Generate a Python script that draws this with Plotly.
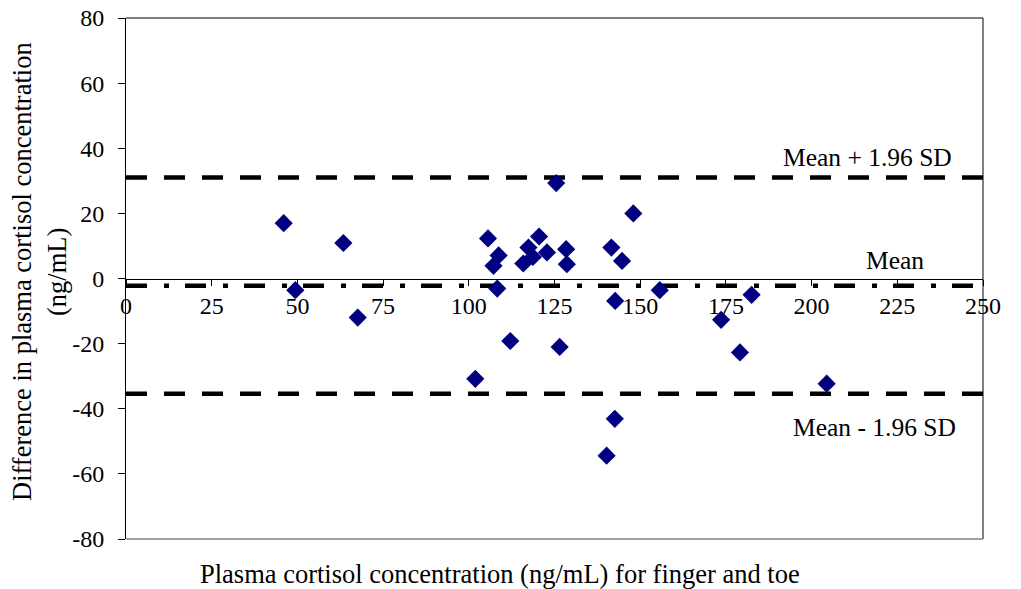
import plotly.graph_objects as go

# Data
mean_conc = [46.0, 49.4, 63.4, 67.6, 101.9, 105.6, 107.2, 108.7, 108.3, 112.1,
             115.9, 117.4, 118.7, 120.5, 122.8, 125.5, 126.5, 128.4, 128.6, 140.2,
             141.6, 142.6, 142.7, 144.7, 148.0, 155.7, 173.6, 179.1, 182.5, 204.4]
diff_conc = [17.0, -3.6, 10.9, -12.0, -30.8, 12.3, 3.9, 7.1, -3.1, -19.2,
             4.6, 9.5, 6.6, 12.9, 8.0, 29.3, -21.0, 9.0, 4.4, -54.4,
             9.5, -43.1, -6.9, 5.4, 20.0, -3.6, -12.7, -22.7, -5.0, -32.3]
mean_diff = -2.2
upper_loa = 31.0
lower_loa = -35.4
x_ticks = [0, 25, 50, 75, 100, 125, 150, 175, 200, 225, 250]
y_ticks = [80, 60, 40, 20, 0, -20, -40, -60, -80]

FONT = "Liberation Serif, Times New Roman, serif"

fig = go.Figure()
line_x = [0, 251]
fig.add_trace(go.Scatter(x=line_x, y=[upper_loa, upper_loa], mode="lines",
                         line=dict(color="black", width=4.5, dash="21px,17px"),
                         cliponaxis=False, hoverinfo="skip"))
fig.add_trace(go.Scatter(x=line_x, y=[lower_loa, lower_loa], mode="lines",
                         line=dict(color="black", width=4.5, dash="21px,17px"),
                         cliponaxis=False, hoverinfo="skip"))
fig.add_trace(go.Scatter(x=[0, 250], y=[mean_diff, mean_diff], mode="lines",
                         line=dict(color="black", width=4.5, dash="21px,17px,5px,16px"),
                         cliponaxis=False, hoverinfo="skip"))
fig.add_trace(go.Scatter(x=mean_conc, y=diff_conc, mode="markers",
                         marker=dict(symbol="diamond", size=14, color="#000080",
                                     line=dict(width=0)),
                         cliponaxis=False))

fig.update_layout(
    width=1021, height=589,
    margin=dict(l=126, r=38, t=18, b=50, autoexpand=False),
    paper_bgcolor="white", plot_bgcolor="white",
    showlegend=False,
    font=dict(family=FONT, size=25, color="black"),
    xaxis=dict(range=[0, 250], tickvals=x_ticks, ticktext=[str(v) for v in x_ticks],
               anchor="free", position=0.5, showline=True, linecolor="black", linewidth=1,
               ticks="outside", ticklen=6, tickcolor="black", showgrid=False, zeroline=False,
               automargin=False, ticklabelstandoff=0, tickfont=dict(family=FONT, size=24)),
    yaxis=dict(range=[-80, 80], tickvals=y_ticks, ticktext=[str(v) for v in y_ticks],
               showline=True, linecolor="black", linewidth=1,
               ticks="outside", ticklen=7, tickcolor="black", showgrid=False, zeroline=False,
               automargin=False, ticklabelstandoff=9, tickfont=dict(family=FONT, size=24)),
    shapes=[
        dict(type="line", xref="paper", yref="paper", x0=0, x1=1, y0=1, y1=1,
             line=dict(color="black", width=1)),
        dict(type="line", xref="paper", yref="paper", x0=1, x1=1, y0=0, y1=1,
             line=dict(color="black", width=1)),
        dict(type="line", xref="paper", yref="paper", x0=0, x1=1, y0=0, y1=0,
             line=dict(color="#808080", width=1.5)),
    ],
    annotations=[
        dict(text="Mean + 1.96 SD", xref="paper", yref="y", x=0.966, y=37.2,
             xanchor="right", yanchor="middle", showarrow=False, font=dict(size=25.5)),
        dict(text="Mean", xref="paper", yref="y", x=0.934, y=5.6,
             xanchor="right", yanchor="middle", showarrow=False, font=dict(size=25.5)),
        dict(text="Mean - 1.96 SD", xref="paper", yref="y", x=0.971, y=-45.7,
             xanchor="right", yanchor="middle", showarrow=False, font=dict(size=25.5)),
        dict(text="Plasma cortisol concentration (ng/mL) for finger and toe",
             xref="paper", yref="paper", x=(500 - 126) / 857, y=(539 - 574) / 521,
             xanchor="center", yanchor="middle", showarrow=False, font=dict(size=26.5)),
        dict(text="Difference in plasma cortisol concentration", textangle=-90,
             xref="paper", yref="paper", x=(22 - 126) / 857, y=(539 - 272) / 521,
             xanchor="center", yanchor="middle", showarrow=False, font=dict(size=26.5)),
        dict(text="(ng/mL)", textangle=-90,
             xref="paper", yref="paper", x=(57 - 126) / 857, y=(539 - 272) / 521,
             xanchor="center", yanchor="middle", showarrow=False, font=dict(size=26.5)),
    ],
)

fig.write_html("out.html")
